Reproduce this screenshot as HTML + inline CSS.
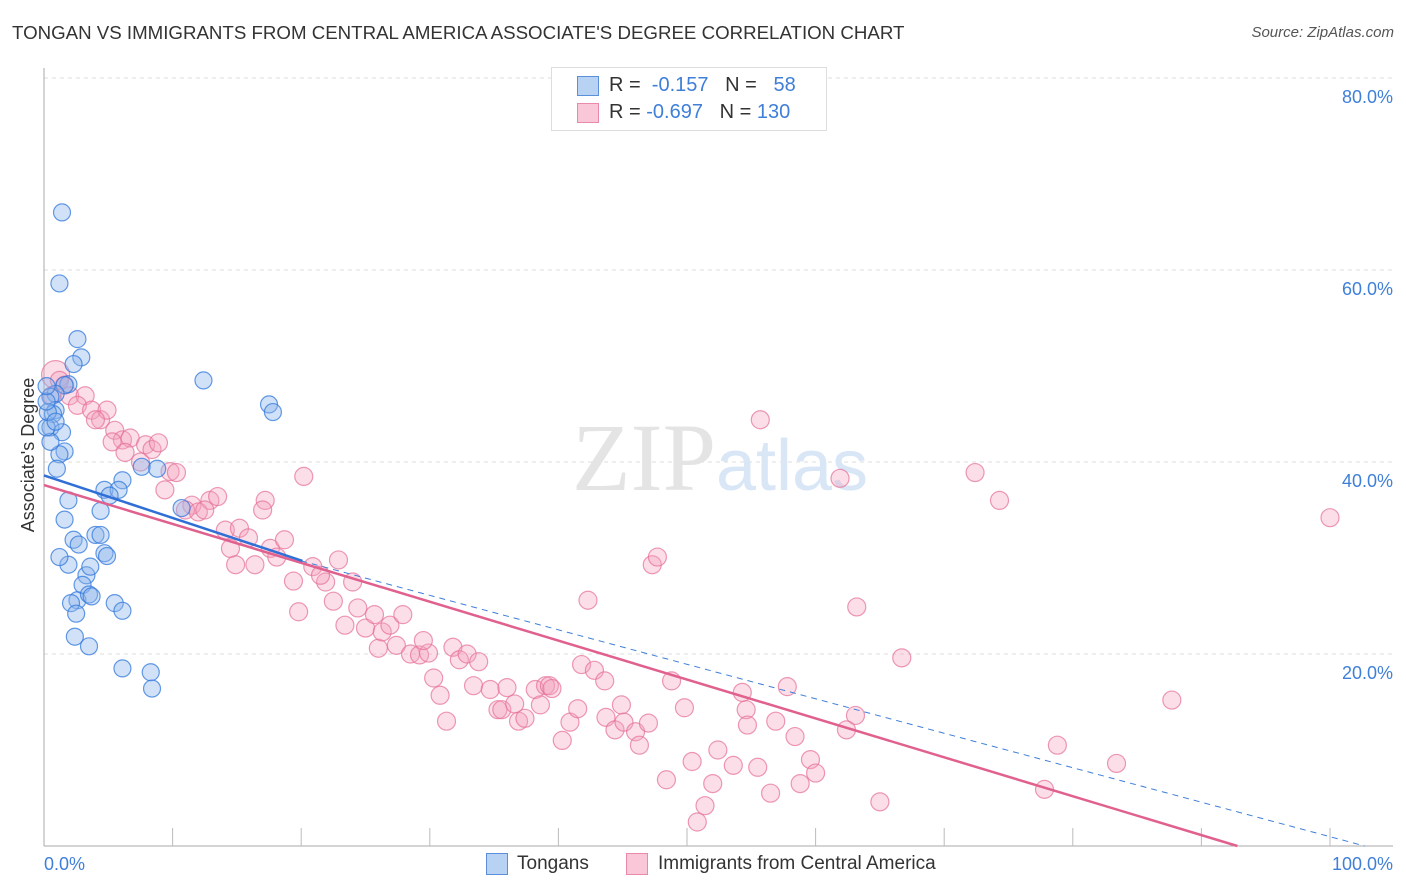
<!DOCTYPE html>
<html><head><meta charset="utf-8"><style>
body{margin:0;background:#fff;font-family:"Liberation Sans",sans-serif;}
#wrap{position:relative;width:1406px;height:892px;overflow:hidden}
.t{position:absolute;white-space:nowrap}
</style></head><body>
<div id="wrap">
<div class="t" style="left:12px;top:22px;font-size:18.7px;color:#333">TONGAN VS IMMIGRANTS FROM CENTRAL AMERICA ASSOCIATE'S DEGREE CORRELATION CHART</div>
<div class="t" style="right:12px;top:24px;font-size:15px;color:#555;font-style:italic">Source: ZipAtlas.com</div>
<svg id="svg" width="1406" height="892" style="position:absolute;left:0;top:0"></svg>
</div>
<script>
const tonganX=[1.4,1.2,2.6,2.9,2.3,12.4,17.5,17.8,1.9,1.6,0.9,0.5,0.9,0.7,0.5,1.4,1.6,1.2,1.0,1.9,1.6,4.4,4.7,6.1,5.8,5.1,7.6,8.8,2.3,1.9,1.2,2.7,4.7,4.9,4.0,4.4,10.7,3.3,3.6,2.6,3.0,3.5,2.1,2.5,3.7,5.5,6.1,2.4,3.5,6.1,8.3,8.4,0.5,0.2,0.3,0.9,0.2,0.2];
const tonganY=[66.0,58.6,52.8,50.9,50.2,48.5,46.0,45.2,48.1,48.0,47.1,46.8,45.4,45.0,43.6,43.1,41.1,40.8,39.3,36.0,34.0,34.9,37.1,38.1,37.1,36.5,39.5,39.3,31.9,29.3,30.1,31.4,30.5,30.2,32.4,32.4,35.2,28.2,29.1,25.6,27.2,26.2,25.3,24.2,26.0,25.3,24.5,21.8,20.8,18.5,18.1,16.4,42.1,43.6,45.2,44.2,46.3,47.9];
const immX=[0.9,1.2,1.6,0.6,2.0,3.2,2.6,3.7,4.4,4.9,4.0,5.5,6.1,6.7,5.3,6.3,7.9,8.4,8.9,7.5,9.8,10.3,9.4,11.5,12.9,13.5,11.0,12.0,12.5,14.1,15.2,14.5,15.9,17.2,17.0,17.6,14.9,16.4,18.1,18.7,20.2,19.4,19.8,21.9,20.9,21.5,22.9,22.5,24.0,24.4,23.4,25.0,26.0,26.3,25.7,26.9,27.9,27.4,28.5,29.2,29.9,29.5,30.3,31.8,32.3,32.9,33.8,30.8,31.3,33.4,34.7,35.3,35.6,36.6,36.9,36.0,38.2,39.0,39.3,39.5,38.6,37.4,40.3,40.9,41.5,41.8,42.8,43.6,42.3,43.7,44.9,44.4,45.1,46.0,46.3,47.0,47.3,47.7,48.8,49.8,48.4,50.4,51.4,50.8,52.4,52.0,53.6,54.6,54.3,54.7,55.7,55.5,56.5,56.9,57.8,58.4,58.8,59.6,60.0,61.9,63.2,63.1,62.4,65.0,66.7,72.4,74.3,77.8,78.8,83.4,87.7,100.0];
const immY=[49.1,48.5,48.0,46.9,46.9,46.9,45.9,45.4,44.4,45.4,44.4,43.3,42.3,42.5,42.1,41.0,41.8,41.3,42.0,40.0,39.0,38.9,37.1,35.5,36.0,36.4,35.0,34.8,35.0,32.9,33.1,31.0,32.1,36.0,35.0,31.0,29.3,29.3,30.1,31.9,38.5,27.6,24.4,27.5,29.1,28.2,29.8,25.5,27.5,24.8,23.0,22.7,20.6,22.3,24.1,23.0,24.1,20.9,20.0,19.9,20.1,21.4,17.5,20.7,19.4,20.0,19.2,15.7,13.0,16.7,16.3,14.2,14.2,14.8,13.0,16.5,16.3,16.7,16.7,16.4,14.7,13.3,11.0,12.9,14.3,18.9,18.3,17.2,25.6,13.4,14.7,12.1,12.9,11.9,10.5,12.8,29.3,30.1,17.2,14.4,6.9,8.8,4.2,2.5,10.0,6.5,8.4,14.2,16.0,12.6,44.4,8.2,5.5,13.0,16.6,11.4,6.5,9.0,7.6,38.3,24.9,13.6,12.1,4.6,19.6,38.9,36.0,5.9,10.5,8.6,15.2,34.2];
const xTicks=[0,100];const yTicks=[20,40,60,80];
const X=v=>44+v*12.86, Y=v=>846-v*9.6;
const NS="http://www.w3.org/2000/svg", svg=document.getElementById('svg');
function mk(t,a,p){const e=document.createElementNS(NS,t);for(const k in a)e.setAttribute(k,a[k]);(p||svg).appendChild(e);return e;}
yTicks.forEach(v=>{const l=mk('line',{x1:44,x2:1393,y1:Y(v),y2:Y(v),stroke:'#ddd','stroke-dasharray':'4,4'});


const t=mk('text',{x:1393,y:Y(v)+25,'text-anchor':'end','font-size':18,fill:'#3f7fd8','font-family':'Liberation Sans'});t.textContent=v.toFixed(1)+'%';

});
const ax=mk('line',{x1:44,x2:44,y1:68,y2:846,stroke:'#aaa'});


const bx=mk('line',{x1:44,x2:1393,y1:846,y2:846,stroke:'#aaa'});


for(let i=1;i<=10;i++){const l=mk('line',{x1:X(i*10),x2:X(i*10),y1:828,y2:846,stroke:'#bbb'});

}
xTicks.forEach((v,i)=>{const t=mk('text',{x:i?1393:44,y:870,'text-anchor':i?'end':'start','font-size':18,fill:'#3f7fd8','font-family':'Liberation Sans'});t.textContent=v.toFixed(1)+'%';

});
const wm=mk('text',{x:720,y:490,'text-anchor':'middle','font-size':96,fill:'#e4e4e4','font-family':'Liberation Serif'});wm.innerHTML='ZIP<tspan fill="#d8e6f6" font-family="Liberation Sans" font-size="72">atlas</tspan>';


const yt=mk('text',{x:34,y:455,'text-anchor':'middle','font-size':18,fill:'#333','font-family':'Liberation Sans',transform:'rotate(-90 34 455)'});yt.textContent="Associate's Degree";


immX.forEach((v,i)=>{const c=mk('circle',{cx:X(v),cy:Y(immY[i]),r:i==0?14:9,fill:'rgba(244,160,190,0.35)',stroke:'rgba(230,110,150,0.7)','stroke-width':1.2});

});
tonganX.forEach((v,i)=>{const c=mk('circle',{cx:X(v),cy:Y(tonganY[i]),r:8.5,fill:'rgba(140,180,235,0.4)',stroke:'rgba(50,120,220,0.75)','stroke-width':1.2});

});
const d=mk('line',{x1:X(20),y1:Y(29.7),x2:X(102.7),y2:Y(0),stroke:'#3f7fd8','stroke-width':1,'stroke-dasharray':'6,5'});


const pl=mk('line',{x1:X(0),y1:Y(37.6),x2:X(92.8),y2:Y(0),stroke:'#e0608e','stroke-width':2.5});


const bl=mk('line',{x1:X(0),y1:Y(38.6),x2:X(20.1),y2:Y(29.7),stroke:'#2f6fd6','stroke-width':2.5});


</script>
<div class="t" style="left:551px;top:67px;width:274px;height:62px;border:1px solid #ddd;background:#fff;font-size:20px">
<div class="t" style="left:25px;top:8px;width:20px;height:18px;background:#b8d2f4;border:1px solid #5b8fdc"></div>
<div class="t" style="left:57px;top:6px;color:#333">R = <span style="color:#3f7fd8">&nbsp;-0.157</span>&nbsp;&nbsp;&nbsp;N = &nbsp;&nbsp;<span style="color:#3f7fd8">58</span></div>
<div class="t" style="left:25px;top:35px;width:20px;height:18px;background:#f9c7d7;border:1px solid #e88aa8"></div>
<div class="t" style="left:57px;top:33px;color:#333">R = <span style="color:#3f7fd8">-0.697</span>&nbsp;&nbsp;&nbsp;N = <span style="color:#3f7fd8">130</span></div>
</div>
<div class="t" style="left:486px;top:853px;width:20px;height:20px;background:#b8d2f4;border:1px solid #5b8fdc"></div>
<div class="t" style="left:517px;top:853px;font-size:19px;color:#333">Tongans</div>
<div class="t" style="left:626px;top:853px;width:20px;height:20px;background:#f9c7d7;border:1px solid #e88aa8"></div>
<div class="t" style="left:658px;top:853px;font-size:19px;color:#333">Immigrants from Central America</div>
</body></html>
